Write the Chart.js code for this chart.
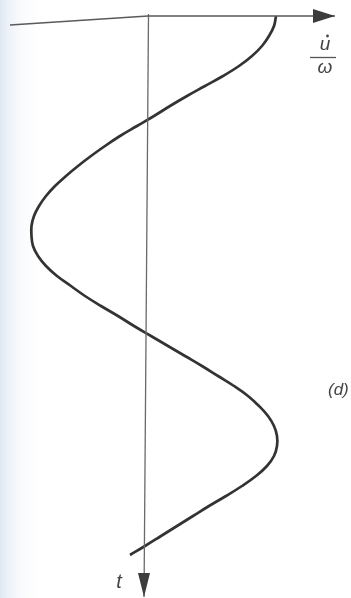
<!DOCTYPE html>
<html>
<head>
<meta charset="utf-8">
<script src="https://cdn.jsdelivr.net/npm/chart.js@4"></script>
<style>
  html, body { margin: 0; padding: 0; }
  body { width: 351px; height: 598px; overflow: hidden;
    background: linear-gradient(to right, #dfe7f1 0px, #edf2f8 8px, #fafbfd 22px, #ffffff 40px); }
  #wrap { position: relative; width: 351px; height: 598px; }
  canvas { display: block; }
</style>
</head>
<body>
<div id="wrap"><canvas id="c" width="351" height="598"></canvas></div>
<script>
// time (downwards) and velocity/omega (sideways)
const tValues = [0, 1, 2, 3, 4, 5, 6, 7, 8, 9, 10, 11, 12, 13, 14, 15, 16, 17, 18, 19, 20,
  21, 22, 23, 24, 25, 26, 27, 28, 29, 30, 31, 32, 33, 34, 35, 36, 37, 38, 39, 40,
  41, 42, 43, 44, 45, 46, 47, 48, 49, 50, 51, 52, 53, 53.9];
const uValues = [1.024, 1.008, 0.968, 0.912, 0.832, 0.728, 0.600, 0.456, 0.312, 0.176, 0.048,
  -0.088, -0.224, -0.344, -0.456, -0.560, -0.656, -0.744, -0.816, -0.872, -0.912,
  -0.932, -0.932, -0.920, -0.880, -0.816, -0.728, -0.616, -0.504, -0.376, -0.240,
  -0.112, 0.024, 0.160, 0.296, 0.432, 0.560, 0.688, 0.800, 0.888, 0.960,
  1.008, 1.032, 1.032, 1.008, 0.952, 0.864, 0.752, 0.624, 0.488, 0.360,
  0.232, 0.104, -0.024, -0.144];

// axis lines (u, t)
const hAxisU = [-1.104, 0, 1.496];
const hAxisT = [0.9, 0, 0];
const vAxisU = [0.004, -0.032];
const vAxisT = [-0.2, 58.1];

// labels
const uLabel = 'u̇';
const wLabel = 'ω';
const tLabel = 't';
const partLabel = '(d)';

const curve = tValues.map((t, i) => ({ x: uValues[i], y: t }));
const hAxis = hAxisU.map((u, i) => ({ x: u, y: hAxisT[i] }));
const vAxis = vAxisU.map((u, i) => ({ x: u, y: vAxisT[i] }));

const arrowsAndText = {
  id: 'arrowsAndText',
  afterDatasetsDraw(chart) {
    const ctx = chart.ctx, xs = chart.scales.x, ys = chart.scales.y;
    ctx.save();
    // right arrow on horizontal axis
    const hx = xs.getPixelForValue(hAxisU[hAxisU.length - 1]);
    const hy = ys.getPixelForValue(hAxisT[hAxisT.length - 1]);
    ctx.fillStyle = '#3c3c3c';
    ctx.beginPath();
    ctx.moveTo(hx, hy);
    ctx.lineTo(hx - 22, hy - 7);
    ctx.lineTo(hx - 22, hy + 7);
    ctx.closePath();
    ctx.fill();
    // down arrow on vertical axis
    const vx = xs.getPixelForValue(vAxisU[vAxisU.length - 1]);
    const vy = ys.getPixelForValue(vAxisT[vAxisT.length - 1]);
    ctx.beginPath();
    ctx.moveTo(vx, vy);
    ctx.lineTo(vx - 6, vy - 24);
    ctx.lineTo(vx + 6, vy - 24);
    ctx.closePath();
    ctx.fill();

    // labels
    ctx.fillStyle = '#444';
    ctx.textAlign = 'center';
    ctx.textBaseline = 'alphabetic';
    ctx.font = 'italic 19px "Liberation Sans", Arial, sans-serif';
    ctx.fillText('u', 325, 50);
    ctx.beginPath();
    ctx.arc(327.5, 36, 1.4, 0, Math.PI * 2);
    ctx.fill();
    ctx.strokeStyle = '#555';
    ctx.lineWidth = 1.3;
    ctx.beginPath();
    ctx.moveTo(310, 57.5);
    ctx.lineTo(336, 57.5);
    ctx.stroke();
    ctx.fillText(wLabel, 325, 73);
    ctx.font = 'italic 20px "Liberation Sans", Arial, sans-serif';
    ctx.fillText(tLabel, 119, 588);
    ctx.textAlign = 'left';
    ctx.font = 'italic 17px "Liberation Sans", Arial, sans-serif';
    ctx.fillText(partLabel, 328, 395);
    ctx.restore();
  }
};

new Chart(document.getElementById('c'), {
  type: 'scatter',
  data: {
    datasets: [
      { label: 'axis-u', data: hAxis, showLine: true, borderColor: '#5a5a5a', borderWidth: 1.5,
        pointRadius: 0, tension: 0 },
      { label: 'axis-t', data: vAxis, showLine: true, borderColor: '#6a6a6a', borderWidth: 1.3,
        pointRadius: 0, tension: 0 },
      { label: uLabel, data: curve, showLine: true, borderColor: '#333333', borderWidth: 2.7,
        pointRadius: 0, tension: 0.4 }
    ]
  },
  options: {
    responsive: false,
    animation: false,
    devicePixelRatio: 1,
    layout: { padding: 0 },
    plugins: { legend: { display: false }, tooltip: { enabled: false } },
    scales: {
      x: { type: 'linear', display: false, min: -1.184, max: 1.624 },
      y: { type: 'linear', display: false, reverse: true, min: -1.6, max: 58.2 }
    }
  },
  plugins: [arrowsAndText]
});
</script>
</body>
</html>
